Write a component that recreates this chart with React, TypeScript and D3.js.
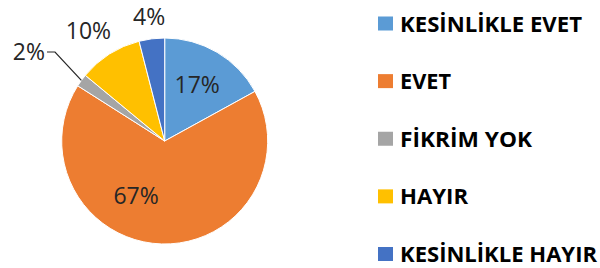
import React from "react";
import * as d3 from "d3";

const categories = ["KESİNLİKLE EVET", "EVET", "FİKRİM YOK", "HAYIR", "KESİNLİKLE HAYIR"];
const values = [17, 67, 2, 10, 4];
const colors = ["#5B9BD5", "#ED7D31", "#A5A5A5", "#FFC000", "#4472C4"];

const WIDTH = 600;
const HEIGHT = 268;
const CX = 164.7;
const CY = 141;
const R = 103;

// label placement (radius factor, angle shift) — mimics Excel best-fit
const labelRadius = [0.63, 0.6, 1.0, 1.3, 1.21];
const labelShift = [-0.01, 0.45, 0, -0.04, 0];
const legendWidths = [182, 51, 132, 68, 197];

const App = () => {
  const pie = d3
    .pie<number>()
    .sort(null)
    .value((d: number) => d);
  const arcs = pie(values);

  const arc: any = d3.arc().innerRadius(0).outerRadius(R);

  const legendY = d3
    .scalePoint<string>()
    .domain(categories)
    .range([31.5, 262]);

  const pos = (a: number, r: number) => [CX + r * Math.sin(a), CY - r * Math.cos(a)];

  return (
    <svg width={WIDTH} height={HEIGHT} style={{ position: "absolute", left: 0, top: 0, background: "#fff" }}>
      <g>
        {arcs.map((d: any, i: number) => (
          <path
            key={i}
            d={arc(d)}
            transform={`translate(${CX},${CY})`}
            fill={colors[i]}
            stroke="#fff"
            strokeWidth={1}
          />
        ))}
      </g>
      <g fontFamily="'Open Sans', sans-serif" fontSize={23} fill="#262626">
        {arcs.map((d: any, i: number) => {
          const mid = (d.startAngle + d.endAngle) / 2 + labelShift[i];
          const label = `${values[i]}%`;
          if (i === 2) {
            const [x0, y0] = pos(mid, R * labelRadius[i]);
            const x1 = 55;
            const y1 = 52;
            return (
              <g key={i}>
                <polyline
                  points={`${x0},${y0} ${x1},${y1} ${x1 - 8},${y1}`}
                  fill="none"
                  stroke="#262626"
                  strokeWidth={1.2}
                />
                <text x={x1 - 10} y={y1} dy="0.35em" textAnchor="end">
                  {label}
                </text>
              </g>
            );
          }
          const [x, y] = pos(mid, R * labelRadius[i]);
          return (
            <text key={i} x={x} y={y} dy="0.35em" textAnchor="middle">
              {label}
            </text>
          );
        })}
      </g>
      <g fontFamily="'Open Sans', sans-serif" fontWeight="bold" fontSize={22} fill="#000">
        {categories.map((c: string, i: number) => {
          const y = legendY(c) as number;
          return (
            <g key={c}>
              <rect x={378} y={y - 15} width={15} height={14} fill={colors[i]} />
              <text x={400} y={y} textLength={legendWidths[i]} lengthAdjust="spacingAndGlyphs">
                {c}
              </text>
            </g>
          );
        })}
      </g>
    </svg>
  );
};

export default App;
